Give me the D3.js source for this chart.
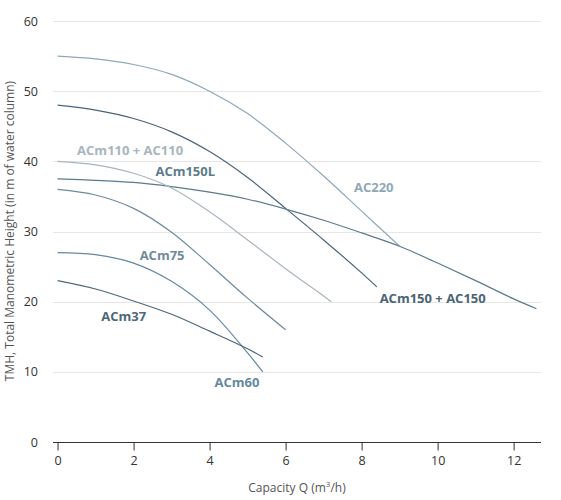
<!DOCTYPE html>
<html>
<head>
<meta charset="utf-8">
<script src="https://cdn.jsdelivr.net/npm/d3@7"></script>
<style>
  body { margin: 0; background: #fff; }
  svg text { font-family: "Open Sans", "Noto Sans", sans-serif; }
</style>
</head>
<body>
<svg id="chart"></svg>
<script>
var width = 561;
var height = 500;

// capacity Q (m3/h) / head (m) per pump
var ac220 = [[0, 55], [1, 54.6], [2, 53.8], [3, 52.4], [4, 50.0], [5, 46.8], [6, 42.6], [7, 37.9], [8, 32.9], [9, 27.9]];
var acm150 = [[0, 48], [1, 47.3], [2, 46.1], [3, 44.2], [4, 41.4], [5, 37.7], [6, 33.3], [7, 28.8], [8, 24.1], [8.4, 22.1]];
var acm150L = [[0, 37.5], [1, 37.3], [2, 37.0], [3, 36.4], [4, 35.6], [5, 34.6], [6, 33.2], [7, 31.6], [8, 29.8], [9, 27.9], [10, 25.5], [11, 23.0], [12, 20.4], [12.6, 19]];
var acm110 = [[0, 40], [1, 39.5], [2, 38.3], [3, 36.2], [4, 32.8], [5, 28.8], [6, 24.7], [7, 20.8], [7.2, 20]];
var acm75 = [[0, 36], [1, 35.2], [2, 33.3], [3, 29.9], [4, 25.3], [5, 20.5], [6, 16]];
var acm60 = [[0, 27], [1, 26.7], [2, 25.5], [3, 22.9], [4, 18.8], [5, 12.7], [5.4, 10]];
var acm37 = [[0, 23], [1, 21.8], [2, 20.1], [3, 18.2], [4, 15.8], [5, 13.3], [5.4, 12.1]];

var xTicks = [0, 2, 4, 6, 8, 10, 12];
var yTicks = [0, 10, 20, 30, 40, 50, 60];

var series = [
  {name: 'AC220', values: ac220, color: '#8fa8b7', lx: 8.32, ly: 36.3},
  {name: 'ACm150 + AC150', values: acm150, color: '#4b6474', lx: 9.87, ly: 20.5},
  {name: 'ACm150L', values: acm150L, color: '#5c7b8c', lx: 3.36, ly: 38.5},
  {name: 'ACm110 + AC110', values: acm110, color: '#a9b5bd', lx: 1.91, ly: 41.6},
  {name: 'ACm75', values: acm75, color: '#6f8b9b', lx: 2.75, ly: 26.65},
  {name: 'ACm60', values: acm60, color: '#6589a0', lx: 4.72, ly: 8.55},
  {name: 'ACm37', values: acm37, color: '#4e6878', lx: 1.74, ly: 17.96}
];

var svg = d3.select('#chart')
    .attr('width', width)
    .attr('height', height);

var xScale = d3.scaleLinear()
    .domain([-0.12, 12.72])
    .range([53, 541]);

var yScale = d3.scaleLinear()
    .domain([0, 60])
    .range([442, 21]);

// horizontal grid
svg.append('g')
  .selectAll('line')
  .data(yTicks.slice(1))
  .enter()
  .append('line')
    .attr('x1', xScale.range()[0])
    .attr('x2', xScale.range()[1])
    .attr('y1', function(d) { return Math.round(yScale(d)) + 0.5; })
    .attr('y2', function(d) { return Math.round(yScale(d)) + 0.5; })
    .attr('stroke', '#e6e6e6')
    .attr('stroke-width', 1);

// x axis
var xAxis = d3.axisBottom(xScale)
    .tickValues(xTicks)
    .tickSize(8)
    .tickPadding(6)
    .tickFormat(d3.format('d'));

var gx = svg.append('g')
    .attr('transform', 'translate(0,' + (Math.round(yScale(0)) + 0.5) + ')')
    .call(xAxis);
gx.select('.domain').attr('stroke', '#333').attr('d', 'M' + xScale.range()[0] + ',0H' + xScale.range()[1]);
gx.selectAll('.tick line').attr('stroke', '#333');
gx.selectAll('.tick text')
    .attr('fill', '#333')
    .style('font-size', '12.5px')
    .style('font-family', '"Open Sans", sans-serif');

// y axis labels only
var yAxis = d3.axisLeft(yScale)
    .tickValues(yTicks)
    .tickSize(0)
    .tickPadding(0);

var gy = svg.append('g')
    .attr('transform', 'translate(38,0)')
    .call(yAxis);
gy.select('.domain').remove();
gy.selectAll('.tick text')
    .attr('fill', '#333')
    .style('font-size', '12.5px')
    .style('font-family', '"Open Sans", sans-serif');

// curves
var line = d3.line()
    .x(function(d) { return xScale(d[0]); })
    .y(function(d) { return yScale(d[1]); })
    .curve(d3.curveCatmullRom.alpha(0.5));

svg.append('g')
  .selectAll('path')
  .data(series)
  .enter()
  .append('path')
    .attr('d', function(d) { return line(d.values); })
    .attr('fill', 'none')
    .attr('stroke', function(d) { return d.color; })
    .attr('stroke-width', 1.2);

// curve labels
svg.append('g')
  .selectAll('text')
  .data(series)
  .enter()
  .append('text')
    .attr('x', function(d) { return xScale(d.lx); })
    .attr('y', function(d) { return yScale(d.ly); })
    .attr('dy', '0.35em')
    .attr('text-anchor', 'middle')
    .attr('fill', function(d) { return d.color; })
    .style('font-size', '13px')
    .style('font-weight', 'bold')
    .text(function(d) { return d.name; });

// axis titles
svg.append('text')
    .attr('x', 297)
    .attr('y', 492)
    .attr('text-anchor', 'middle')
    .attr('fill', '#555')
    .style('font-size', '12px')
    .html('Capacity Q (m<tspan dy="-5" font-size="8px">3</tspan><tspan dy="5">/h)</tspan>');

svg.append('text')
    .attr('transform', 'rotate(-90)')
    .attr('x', -231)
    .attr('y', 14)
    .attr('text-anchor', 'middle')
    .attr('fill', '#555')
    .style('font-size', '12px')
    .text('TMH, Total Manometric Height (in m of water column)');
</script>
</body>
</html>
